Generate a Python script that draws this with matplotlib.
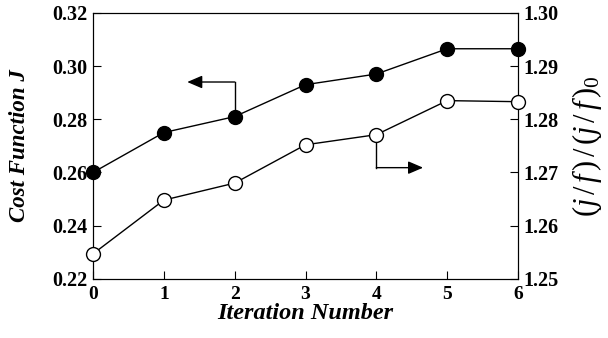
import matplotlib.pyplot as plt

plt.rcParams['font.family'] = ['Liberation Serif', 'DejaVu Serif']
plt.rcParams['mathtext.fontset'] = 'custom'
plt.rcParams['mathtext.rm'] = 'Liberation Serif'
plt.rcParams['mathtext.it'] = 'Liberation Serif:italic'

# data
iterations = [0, 1, 2, 3, 4, 5, 6]
cost_j = [0.260, 0.275, 0.281, 0.293, 0.297, 0.3065, 0.3065]
jf_ratio = [1.2547, 1.2648, 1.2680, 1.2752, 1.2771, 1.2835, 1.2833]

left_ticks = [0.22, 0.24, 0.26, 0.28, 0.30, 0.32]
right_ticks = [1.25, 1.26, 1.27, 1.28, 1.29, 1.30]

fig = plt.figure(figsize=(6.08, 3.38), dpi=100)
ax = fig.add_axes([0.153, 0.175, 0.699, 0.787])
ax2 = ax.twinx()

ax.plot(iterations, cost_j, color='black', lw=1, marker='o', ms=10,
        mfc='black', mec='black', clip_on=False, zorder=3)
ax2.plot(iterations, jf_ratio, color='black', lw=1, marker='o', ms=10,
         mfc='white', mec='black', mew=1, clip_on=False, zorder=3)

ax.set_xlim(0, 6)
ax.set_ylim(0.22, 0.32)
ax2.set_ylim(1.25, 1.30)
ax.set_xticks(iterations)
ax.set_yticks(left_ticks)
ax.set_yticklabels([f'{v:.2f}' for v in left_ticks])
ax2.set_yticks(right_ticks)
ax2.set_yticklabels([f'{v:.2f}' for v in right_ticks])

for a in (ax, ax2):
    a.tick_params(direction='in', length=6, width=0.8, labelsize=14.5, pad=4)
    for lab in a.get_xticklabels() + a.get_yticklabels():
        lab.set_fontweight('bold')
    for s in a.spines.values():
        s.set_linewidth(0.8)
ax.tick_params(axis='x', pad=5, labelsize=14)

ax.set_xlabel('Iteration Number', fontsize=17.5, fontweight='bold', style='italic', labelpad=0)
ax.set_ylabel('Cost Function J', fontsize=16.5, fontweight='bold', style='italic', labelpad=16)
ax2.set_ylabel(r'$(j\,/\,f\,)\,/\,(j\,/\,f\,)_0$', fontsize=22, labelpad=8)

# pointer arrows
head = dict(arrowstyle='-|>,head_length=0.7,head_width=0.3', color='black',
            lw=1, mutation_scale=13, shrinkA=0, shrinkB=0)
ax.plot([2, 2], [cost_j[2], 0.294], color='black', lw=1)
ax.annotate('', xy=(1.33, 0.294), xytext=(2, 0.294), arrowprops=head)
ax2.plot([4, 4], [jf_ratio[4], 1.2709], color='black', lw=1)
ax2.annotate('', xy=(4.66, 1.2709), xytext=(4, 1.2709), arrowprops=head)

fig.savefig('out.png', dpi=100)
